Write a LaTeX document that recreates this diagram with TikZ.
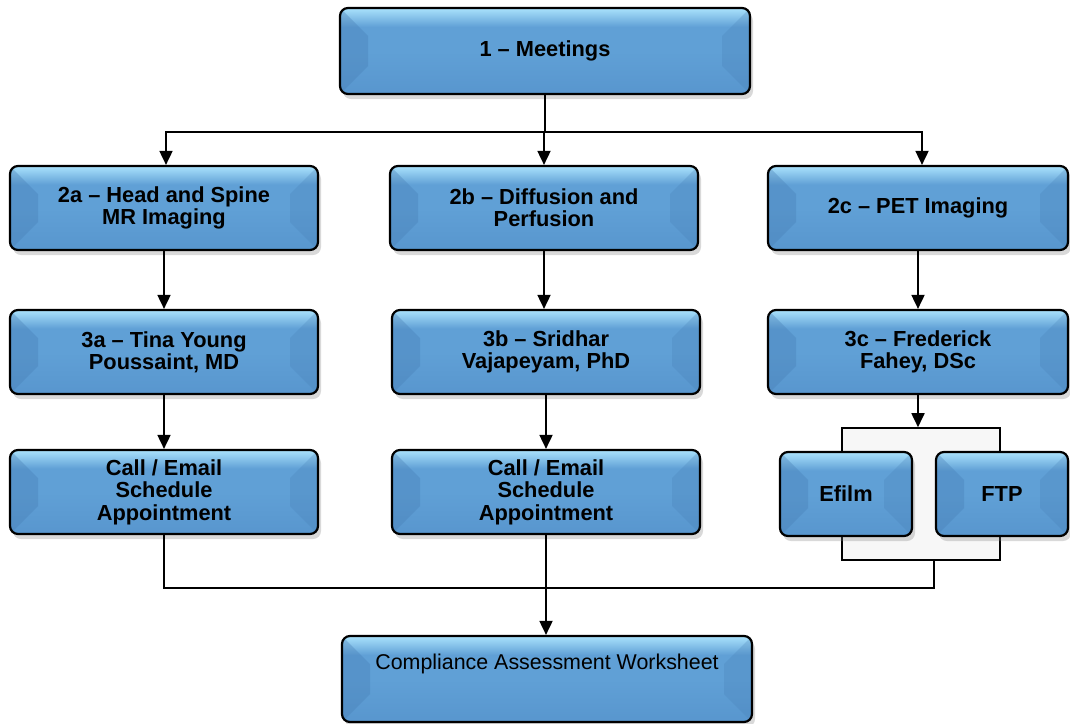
\documentclass[tikz,border=0pt]{standalone}
\usepackage{fontspec}
\setmainfont{Liberation Sans}
\usetikzlibrary{shadows, positioning, arrows.meta}
\definecolor{boxtop}{RGB}{170,226,252}
\definecolor{boxmid}{RGB}{96,160,214}
\definecolor{boxbot}{RGB}{88,150,206}
\definecolor{boxside}{RGB}{70,125,180}
\pgfdeclareverticalshading{bevel}{100bp}{color(0bp)=(boxbot); color(25bp)=(boxbot); color(50bp)=(boxmid); color(64bp)=(boxmid); color(75bp)=(boxtop); color(100bp)=(boxtop)}

\begin{document}
\begin{tikzpicture}[x=0.5pt, y=-0.5pt, every path/.style={line width=0.9pt},
    blockbox/.style={draw=black, line width=1.1pt, rounded corners=4pt, shading=bevel,
      drop shadow={opacity=0.3, shadow xshift=1.5pt, shadow yshift=-2.5pt},
      path picture={
        \fill[boxside, opacity=0.35, sharp corners] (path picture bounding box.north west) -- ([shift={(14pt,-14pt)}]path picture bounding box.north west)
          -- ([shift={(14pt,14pt)}]path picture bounding box.south west) -- (path picture bounding box.south west) -- cycle;
        \fill[boxside, opacity=0.25, sharp corners] (path picture bounding box.north east) -- ([shift={(-14pt,-14pt)}]path picture bounding box.north east)
          -- ([shift={(-14pt,14pt)}]path picture bounding box.south east) -- (path picture bounding box.south east) -- cycle;},
      font=\bfseries\fontsize{10.9}{11.2}\selectfont, align=center, inner sep=0pt,
      minimum width=154pt, minimum height=42pt},
    smallbox/.style={blockbox, minimum width=66pt},
    link/.style={-{Triangle[length=7pt,width=6.5pt]}}]
  \useasboundingbox (0,0) rectangle (1070,723);

  % top level
  \node[blockbox, minimum width=205pt, minimum height=43pt] (meet) at (545,51) {1 -- Meetings};

  % second row
  \node[blockbox] (h2a) at (164,208) {2a -- Head and Spine\\MR Imaging};
  \node[blockbox] (h2b) at (544,208) {2b -- Diffusion and\\Perfusion};
  \node[blockbox, minimum width=150pt] (h2c) at (918,208) {2c -- PET Imaging};

  % third row
  \node[blockbox] (h3a) at (164,352) {3a -- Tina Young\\Poussaint, MD};
  \node[blockbox] (h3b) at (546,352) {3b -- Sridhar\\Vajapeyam, PhD};
  \node[blockbox, minimum width=150pt] (h3c) at (918,352) {3c -- Frederick\\Fahey, DSc};

  % fourth row
  \node[blockbox] (calla) at (164,492) {Call / Email\\Schedule\\Appointment};
  \node[blockbox] (callb) at (546,492) {Call / Email\\Schedule\\Appointment};
  \node[draw=black, fill=gray!6, line width=0.8pt, minimum width=79pt, minimum height=66pt] (brk) at (921,494) {};
  \node[smallbox] (efilm) at (846,494) {Efilm};
  \node[smallbox] (ftp) at (1002,494) {FTP};

  % bottom
  \node[blockbox, minimum width=205pt, minimum height=43pt, font=\fontsize{10.7}{12}\selectfont]
    (comp) at (547,679) {Compliance Assessment Worksheet\\[5pt]\mbox{}};

  \coordinate (split) at (545,132);
  \coordinate (merge) at (164,588);

  \draw (meet) -- (split);
  \draw[link] (split) -| ([xshift=1pt]h2a.north);
  \draw[link] (split) -- (split -| h2b.north) -- (h2b);
  \draw[link] (split) -| ([xshift=2pt]h2c.north);
  \draw[link] (h2a) -- (h3a);
  \draw[link] (h2b) -- (h2b |- h3b.north);
  \draw[link] (h2c) -- (h2c |- h3c.north);
  \draw[link] (h3a) -- (calla);
  \draw[link] (h3b) -- (callb);
  \draw[link] (h3c) -- (h3c |- brk.north);
  \draw (calla) |- (merge) -| ([xshift=6.5pt]brk.south);
  \draw[link] (callb) -- (callb |- comp.north);
\end{tikzpicture}
\end{document}
